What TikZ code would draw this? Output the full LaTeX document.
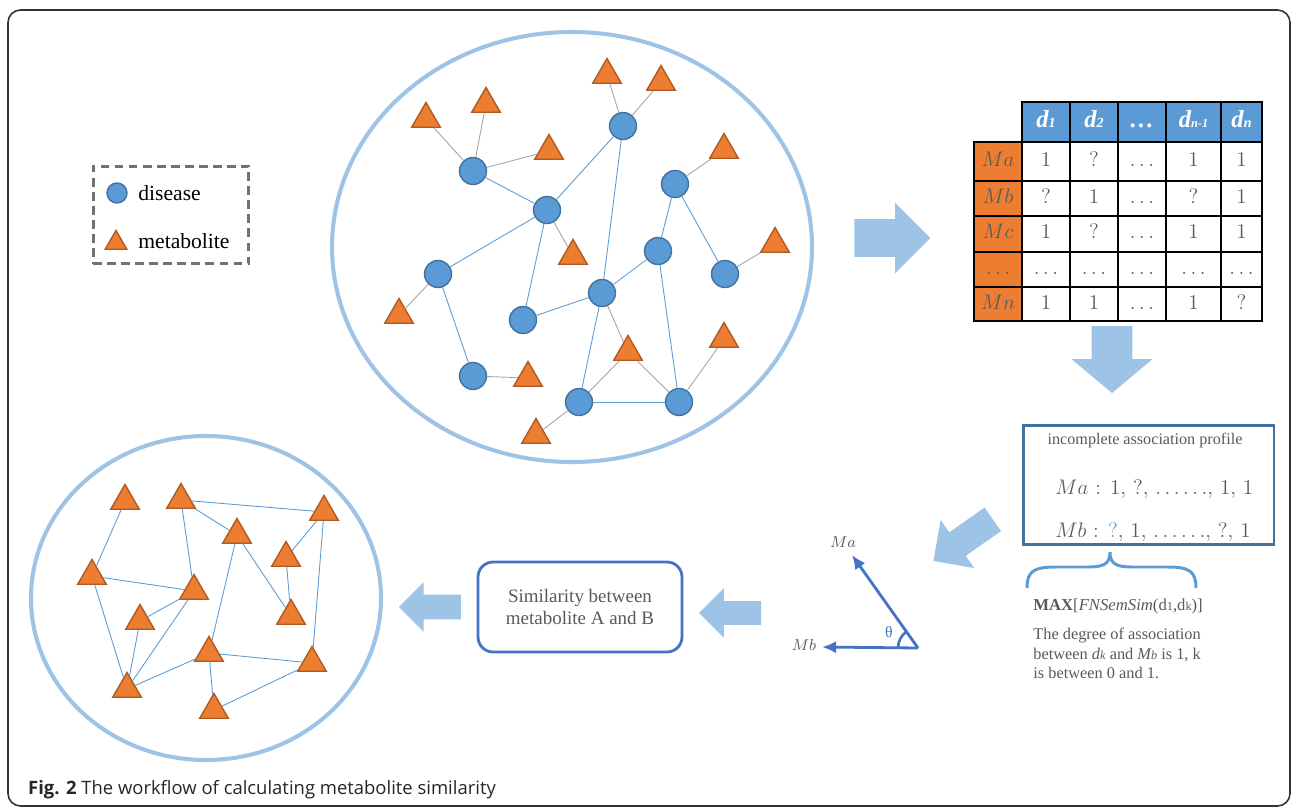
\documentclass[tikz,border=0pt]{standalone}
\usepackage{fontspec}
\newfontfamily\tnr{Liberation Serif}
\newfontfamily\capfont{Open Sans}
\usetikzlibrary{shapes.geometric,shapes.arrows,arrows.meta,angles,positioning}
\definecolor{disfill}{HTML}{5B9BD5}
\definecolor{disline}{HTML}{41719C}
\definecolor{metfill}{HTML}{ED7D31}
\definecolor{metline}{HTML}{AE5A21}
\definecolor{ringblue}{HTML}{9DC3E6}
\definecolor{edgegray}{HTML}{A5A5A5}
\definecolor{txtgray}{HTML}{595959}
\definecolor{vecblue}{HTML}{4472C4}
\definecolor{legendgray}{HTML}{767171}
\newcommand{\hsub}[1]{{\fontsize{8}{8}\selectfont #1}}
\newcommand{\tsub}[1]{{\fontsize{7}{7}\selectfont #1}}
\newcommand{\dotsc}{$\ldots$}
\tikzset{
  disease/.style={circle,fill=disfill,draw=disline,line width=0.8pt,minimum size=0.54cm,inner sep=0pt},
  metab/.style={regular polygon,regular polygon sides=3,fill=metfill,draw=metline,line width=0.8pt,minimum size=0.66cm,inner sep=0pt},
  dd/.style={disfill,line width=0.5pt},
  dm/.style={edgegray,line width=0.5pt},
  ring/.style={draw=ringblue,line width=2.3pt},
  flow/.style={single arrow,fill=ringblue,draw=none,inner xsep=0pt,single arrow head indent=0pt},
  cell/.style={anchor=base,text=txtgray,font=\fontsize{12}{12}\selectfont},
  head/.style={anchor=base,text=white,font=\tnr\bfseries\itshape\fontsize{14}{14}\selectfont},
  vec/.style={vecblue,line width=1.6pt,-{Latex[length=8pt,width=7pt]}},
}

\begin{document}
\begin{tikzpicture}[x=0.02cm,y=-0.02cm]
\useasboundingbox (0,0) rectangle (1293,807);
\draw[black!80,line width=0.9pt,rounded corners=0.25cm] (8,10) rectangle (1290,806);

% legend
\node[draw=legendgray,dash pattern=on 5pt off 3pt,line width=1.7pt,minimum width=3.12cm,minimum height=1.96cm] (legend) at (171,215) {};
\node[disease,minimum size=0.4cm] (legdis) at (117,193) {};
\node[metab,minimum size=0.5cm] (legmet) at (116,243) {};
\node[anchor=west,font=\tnr\fontsize{12.3}{14}\selectfont,inner sep=0pt] (legdistext) at (138,193) {disease};
\node[anchor=west,font=\tnr\fontsize{12.3}{14}\selectfont,inner sep=0pt] (legmettext) at (138,241) {metabolite};

% disease-metabolite network
\draw[ring] (572,247) ellipse [x radius=240,y radius=215];
\foreach \n/\x/\y in {d1/473/171,d2/623/126,d3/547/210,d4/675/184,d5/438/274,d6/658/251,
  d7/725/274,d8/602/293,d9/523/320,d10/473/376,d11/579/402,d12/679/402}
  \node[disease] (\n) at (\x,\y) {};
\foreach \n/\x/\y in {m1/426/119,m2/486/104,m3/607/75,m4/661/82,m5/549/151,m6/724/150,m7/573/256,
  m8/775/244,m9/399/315,m10/628/352,m11/724/339,m12/528/378,m13/536/435}
  \node[metab] (\n) at (\x,\y) {};
\foreach \a/\b in {d1/d3,d3/d2,d3/d5,d3/d9,d2/d8,d4/d6,d4/d7,d6/d8,d8/d9,d5/d10,d8/d11,d6/d12,d11/d12}
  \draw[dd] (\a) -- (\b);
\foreach \a/\b in {d1/m1,d1/m2,d1/m5,d2/m3,d2/m4,d3/m7,d4/m6,d7/m8,d5/m9,d8/m10,d10/m12,d11/m10,
  d12/m10,d12/m11,d11/m13}
  \draw[dm] (\a) -- (\b);

% association table
\fill[disfill] (1022,102) rectangle (1262,142);
\fill[metfill] (974,142) rectangle (1022,321);
\begin{scope}[line width=1.1pt]
  \draw (1022,102) rectangle (1262,321);
  \draw (974,142) rectangle (1022,321);
  \foreach \x in {1070,1118,1166,1221} \draw (\x,102) -- (\x,321);
  \foreach \y in {181,216,252,287} \draw (974,\y) -- (1262,\y);
  \draw (974,142) -- (1262,142);
\end{scope}
\foreach \x/\lab [count=\c] in {1046/{d\hsub{1}},1094/{d\hsub{2}},1142/{\ldots},1193.5/{d\tsub{n-1}},1241.5/{d\hsub{n}}}
  \node[head] (h\c) at (\x,128) {\lab};
\foreach \r/\y/\lab/\vals in {a/167/{$Ma$}/{1,?,\dotsc,1,1},b/204/{$Mb$}/{?,1,\dotsc,?,1},
  c/239/{$Mc$}/{1,?,\dotsc,1,1},x/275/{\dotsc}/{\dotsc,\dotsc,\dotsc,\dotsc,\dotsc},n/309/{$Mn$}/{1,1,\dotsc,1,?}}{
  \node[cell] (row\r) at (998,\y) {\lab};
  \foreach \v [count=\c] in \vals {
    \pgfmathsetmacro\cx{{1046,1094,1142,1193.5,1241.5}[\c-1]}
    \node[cell] (c\r\c) at (\cx,\y) {\v};
  }
}

% flow arrows
\node[flow,minimum height=1.52cm,inner ysep=0.37cm,single arrow head extend=0.33cm] (totable) at (883,238) {};
\node[flow,rotate=-90,single arrow tip angle=100,minimum height=1.34cm,inner ysep=0.4cm,single arrow head extend=0.4cm] (toprofile) at (1112,351) {};
\node[flow,rotate=215,minimum height=1.45cm,inner ysep=0.28cm,single arrow head extend=0.3cm] (tovector) at (969,536) {};
\node[flow,rotate=180,minimum height=1.24cm,inner ysep=0.23cm,single arrow head extend=0.26cm] (tosim) at (736,613) {};
\node[flow,rotate=180,minimum height=1.24cm,inner ysep=0.24cm,single arrow head extend=0.25cm] (tonet) at (436,607) {};

% association profile
\node[draw=disline,line width=1.7pt,minimum width=5.02cm,minimum height=2.4cm] (profile) at (1148.5,485) {};
\node[text=txtgray,font=\tnr\fontsize{9.2}{10}\selectfont] (proftitle) at (1145,441) {incomplete association profile};
\node[anchor=base west,text=txtgray,font=\fontsize{12}{12}\selectfont,inner sep=0pt] (profa) at (1055,494) {$Ma$ : 1, ?, $\ldots\ldots$, 1, 1};
\node[anchor=base west,text=txtgray,font=\fontsize{12}{12}\selectfont,inner sep=0pt] (profb) at (1055,537) {$Mb$ : {\color{disfill}?}, 1, $\ldots\ldots$, ?, 1};
\draw[disfill,line width=1.7pt] (1027,588) .. controls (1027,572) and (1033,567) .. (1055,567) -- (1088,567)
  .. controls (1105,567) and (1110,563) .. (1110,552) .. controls (1110,563) and (1115,567) .. (1132,567)
  -- (1168,567) .. controls (1190,567) and (1196,572) .. (1196,588);
\node[anchor=base west,text=txtgray,font=\tnr\fontsize{9.5}{11}\selectfont,inner sep=0pt] (maxsim) at (1033,610)
  {\textbf{MAX}[\textit{FNSemSim}(d\tsub{1},d\tsub{k})]};
\node[anchor=north west,align=left,text=txtgray,font=\tnr\fontsize{9.3}{11}\selectfont,inner sep=0pt] (degree) at (1033,628)
  {The degree of association\\between \textit{d\tsub{k}} and \textit{M\tsub{b}} is 1, k\\is between 0 and 1.};

% vector angle
\coordinate (vo) at (918,648);
\coordinate (va) at (852,555);
\coordinate (vb) at (822,647);
\draw[vec] (vo) -- (va);
\draw[vec] (vo) -- (vb);
\pic[draw=vecblue,line width=1.5pt,angle radius=0.4cm] {angle=va--vo--vb};
\node[text=txtgray,font=\fontsize{9.5}{10}\selectfont] (valab) at (843,542) {$Ma$};
\node[text=txtgray,font=\fontsize{9.5}{10}\selectfont] (vblab) at (804,645) {$Mb$};
\node[text=vecblue,font=\tnr\fontsize{9}{10}\selectfont] (theta) at (889,632) {θ};

% similarity
\node[draw=vecblue,line width=1.6pt,rounded corners=0.3cm,minimum width=4.08cm,minimum height=1.8cm,
  align=center,text=txtgray,font=\tnr\fontsize{10.8}{13}\selectfont] (simbox) at (580,607)
  {Similarity between\\metabolite A and B};

% metabolite similarity network
\draw[ring] (206,598) ellipse [x radius=175,y radius=162];
\foreach \n/\x/\y in {s1/125/501,s2/181/500,s3/324/512,s4/237/535,s5/286/558,s6/92/576,s7/194/591,
  s8/140/621,s9/291/616,s10/209/653,s11/312/663,s12/127/689,s13/214/710}
  \node[metab] (\n) at (\x,\y) {};
\foreach \a/\b in {s1/s6,s2/s3,s2/s4,s2/s7,s3/s5,s3/s11,s4/s10,s4/s9,s5/s9,s6/s7,s6/s12,s7/s8,
  s7/s12,s8/s12,s12/s10,s10/s11,s10/s13,s13/s11}
  \draw[dd] (\a) -- (\b);

\node[anchor=base west,font=\capfont\fontsize{10.5}{12}\selectfont,text=black!85] (caption) at (22,794)
  {\textbf{Fig. 2} The workflow of calculating metabolite similarity};
\end{tikzpicture}
\end{document}
